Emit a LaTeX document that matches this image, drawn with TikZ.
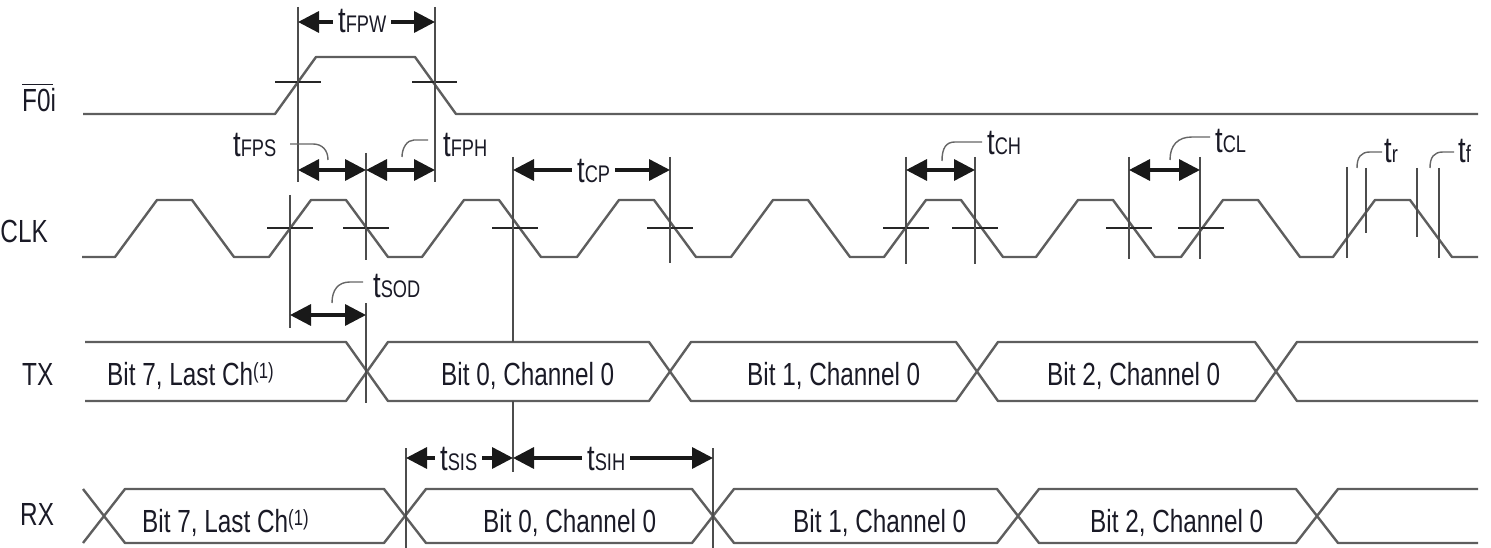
\documentclass[tikz,border=0pt]{standalone}
\usepackage{fontspec}
\setmainfont[FakeStretch=0.76]{Liberation Sans}
\usetikzlibrary{arrows.meta}
\definecolor{wavec}{HTML}{5E5E5E}
\definecolor{ink}{HTML}{1A1A26}
\newcommand{\tsub}[1]{{\fontsize{36}{36}\selectfont t}{\fontsize{24}{24}\selectfont #1}}
\newcommand{\bigtxt}{\fontsize{32}{32}\selectfont}
\newcommand{\supone}{\raisebox{7pt}{\fontsize{22}{22}\selectfont(1)}}
\begin{document}
\begin{tikzpicture}[x=1pt,y=-1pt,
  wave/.style={draw=wavec, line width=2.4pt, line join=round},
  tickm/.style={draw=black!85, line width=1.5pt},
  vline/.style={draw=black!70, line width=1.4pt},
  leader/.style={draw=black!60, line width=1.4pt},
  dimarr/.style={draw=black!90, line width=3.4pt,
     {Triangle[length=21pt,width=21pt]}-{Triangle[length=21pt,width=21pt]}},
  lbl/.style={inner sep=0pt, text=ink, anchor=base west, font=\bigtxt},
  tlbl/.style={inner sep=0pt, text=ink, anchor=base west},
  wlbl/.style={inner xsep=5pt, inner ysep=1pt, fill=white, text=ink, anchor=base west}
]
\useasboundingbox (0,0) rectangle (1491,548);

% ---------- signal names ----------
\node[lbl] (nF0i) at (22,112) {F0i};
\draw[draw=ink, line width=1.5pt] (22,84.5) -- (53,84.5);
\node[lbl, anchor=base east] (nCLK) at (48,242) {CLK};
\node[lbl] (nTX) at (22,385) {TX};
\node[lbl] (nRX) at (20,525) {RX};

% ---------- F0i waveform ----------
\draw[wave] (83,114) -- (275,114) -- (316,57) -- (415,57) -- (456,114) -- (1478,114);
\draw[tickm] (275,82) -- (321,82);
\draw[tickm] (412,82) -- (457,82);

% ---------- CLK waveform ----------
\draw[wave] (82,257)
  \foreach \r in {115,269,422,577,731,884,1036,1181,1333} {
    -- (\r,257) -- ({\r+42},200) -- ({\r+77},200) -- ({\r+119},257)
  } -- (1478,257);
\foreach \c in {290,366,515,670,906,975,1129,1201} {
  \draw[tickm] ({\c-23},228) -- ({\c+23},228);
}

% ---------- TX bus ----------
\draw[wave] (85,342) -- (346,342) -- (367,371.5) -- (346,401) -- (85,401);
\draw[wave] (367,371.5) -- (388,342) -- (649,342) -- (670,371.5) -- (649,401) -- (388,401) -- cycle;
\draw[wave] (670,371.5) -- (691,342) -- (956,342) -- (977,371.5) -- (956,401) -- (691,401) -- cycle;
\draw[wave] (977,371.5) -- (998,342) -- (1255,342) -- (1276,371.5) -- (1255,401) -- (998,401) -- cycle;
\draw[wave] (1478,342) -- (1297,342) -- (1276,371.5) -- (1297,401) -- (1478,401);

% ---------- RX bus ----------
\draw[wave] (83,489) -- (104,516) -- (83,543);
\draw[wave] (104,516) -- (125,489) -- (384,489) -- (405,516) -- (384,543) -- (125,543) -- cycle;
\draw[wave] (405,516) -- (426,489) -- (692,489) -- (713,516) -- (692,543) -- (426,543) -- cycle;
\draw[wave] (713,516) -- (734,489) -- (997,489) -- (1018,516) -- (997,543) -- (734,543) -- cycle;
\draw[wave] (1018,516) -- (1039,489) -- (1296,489) -- (1317,516) -- (1296,543) -- (1039,543) -- cycle;
\draw[wave] (1478,489) -- (1338,489) -- (1317,516) -- (1338,543) -- (1478,543);

% ---------- vertical reference lines ----------
\draw[vline] (298,7) -- (298,182);
\draw[vline] (435,7) -- (435,182);
\draw[vline] (290,195) -- (290,328);
\draw[vline] (366,153) -- (366,260);
\draw[vline] (366,303) -- (366,403);
\draw[vline] (513,157) -- (513,342);
\draw[vline] (513,401) -- (513,472);
\draw[vline] (670,157) -- (670,263);
\draw[vline] (906,157) -- (906,264);
\draw[vline] (975,157) -- (975,264);
\draw[vline] (1129,157) -- (1129,259);
\draw[vline] (1200,157) -- (1200,259);
\draw[vline] (1347,167) -- (1347,258);
\draw[vline] (1366,168) -- (1366,233);
\draw[vline] (1417,168) -- (1417,237);
\draw[vline] (1439,168) -- (1439,258);
\draw[vline] (406,448) -- (406,548);
\draw[vline] (713,448) -- (713,548);

% ---------- dimension arrows ----------
\draw[dimarr] (298,22) -- (435,22);
\node[wlbl] (lFPW) at (333,33) {\tsub{FPW}};
\draw[dimarr] (298,170) -- (366,170);
\draw[dimarr] (366,170) -- (435,170);
\draw[dimarr] (513,170) -- (670,170);
\node[wlbl] (lCP) at (572,183) {\tsub{CP}};
\draw[dimarr] (906,170) -- (975,170);
\draw[dimarr] (1129,170) -- (1200,170);
\draw[dimarr] (290,315) -- (366,315);
\draw[dimarr] (406,458) -- (513,458);
\node[wlbl] (lSIS) at (435,470) {\tsub{SIS}};
\draw[dimarr] (513,458) -- (713,458);
\node[wlbl] (lSIH) at (582,470) {\tsub{SIH}};

% ---------- leaders and labels ----------
\draw[leader] (290,144) -- (313,144) .. controls (322,144) and (328,150) .. (328,160);
\node[tlbl] (lFPS) at (233,157) {\tsub{FPS}};
\draw[leader] (428,140) -- (414,140) .. controls (407,140) and (402,148) .. (402,157);
\node[tlbl] (lFPH) at (443,157) {\tsub{FPH}};
\draw[leader] (942,161) .. controls (942,148) and (946,142) .. (955,142) -- (982,142);
\node[tlbl] (lCH) at (987,155) {\tsub{CH}};
\draw[leader] (1170,160) .. controls (1170,145) and (1178,137) .. (1192,137) -- (1210,137);
\node[tlbl] (lCL) at (1215,153) {\tsub{CL}};
\draw[leader] (332,303) .. controls (332,290) and (338,282) .. (350,282) -- (363,282);
\node[tlbl] (lSOD) at (373,297) {\tsub{SOD}};
\draw[leader] (1357,168) .. controls (1357,157) and (1361,152) .. (1370,152) -- (1382,152);
\node[tlbl] (lr) at (1384,163) {\tsub{r}};
\draw[leader] (1430,168) .. controls (1430,157) and (1434,152) .. (1443,152) -- (1454,152);
\node[tlbl] (lf) at (1458,163) {\tsub{f}};

% ---------- bus texts ----------
\node[lbl] (tx7) at (107,385) {Bit 7, Last Ch\supone};
\node[lbl] (tx0) at (441,385) {Bit 0, Channel 0};
\node[lbl] (tx1) at (747,385) {Bit 1, Channel 0};
\node[lbl] (tx2) at (1047,385) {Bit 2, Channel 0};
\node[lbl] (rx7) at (142,532) {Bit 7, Last Ch\supone};
\node[lbl] (rx0) at (483,532) {Bit 0, Channel 0};
\node[lbl] (rx1) at (793,532) {Bit 1, Channel 0};
\node[lbl] (rx2) at (1090,532) {Bit 2, Channel 0};
\end{tikzpicture}
\end{document}
